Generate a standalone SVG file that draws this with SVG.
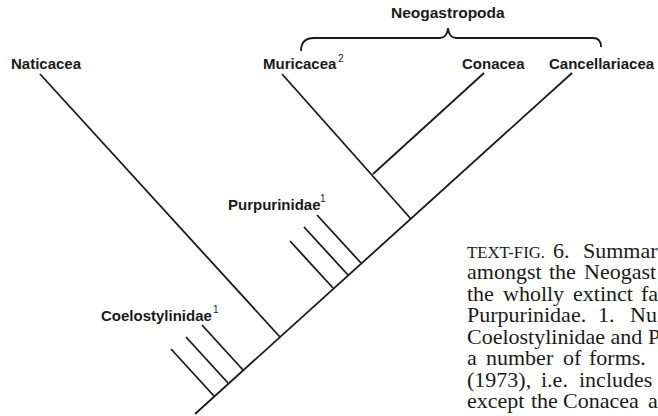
<svg xmlns="http://www.w3.org/2000/svg" width="658" height="416" viewBox="0 0 658 416">
<style>
.lbl{font-family:"Liberation Sans",Arial,sans-serif;font-weight:bold;font-size:15px;fill:#1a1a1a}
.sup{font-family:"Liberation Sans",Arial,sans-serif;font-size:10px;fill:#1a1a1a}
.ln{stroke:#1a1a1a;stroke-width:1.8;fill:none;stroke-linecap:butt}
.cap{font-family:"Liberation Serif","Times New Roman",serif;font-size:22px;fill:#1a1a1a}
.sc{font-size:16.5px}
</style>
<rect width="658" height="416" fill="#ffffff"/>
<g id="connectors">
<line class="ln" x1="195" y1="414" x2="572" y2="73"/>
<line class="ln" x1="40" y1="74" x2="280" y2="337"/>
<line class="ln" x1="282" y1="74" x2="411" y2="219"/>
<line class="ln" x1="484" y1="73" x2="373" y2="174"/>
<line class="ln" x1="171" y1="349" x2="214" y2="396"/>
<line class="ln" x1="186" y1="337" x2="228" y2="383"/>
<line class="ln" x1="202" y1="325" x2="243" y2="370"/>
<line class="ln" x1="290" y1="241" x2="333" y2="288"/>
<line class="ln" x1="304" y1="227" x2="348" y2="275"/>
<line class="ln" x1="317" y1="215" x2="361" y2="263"/>
<path class="ln" d="M301,51 Q301,38 314,38 L440,38 Q447,38 448,28 Q449,38 456,38 L593,38 Q601,38 601,47"/>
</g>
<g id="node-naticacea"><text class="lbl" x="11" y="69">Naticacea</text></g>
<g id="node-muricacea"><text class="lbl" x="263" y="69">Muricacea</text><text class="sup" x="338" y="62">2</text></g>
<g id="node-conacea"><text class="lbl" x="462" y="69">Conacea</text></g>
<g id="node-cancellariacea"><text class="lbl" x="549" y="69">Cancellariacea</text></g>
<g id="node-neogastropoda"><text class="lbl" x="391" y="18" style="font-size:15.5px">Neogastropoda</text></g>
<g id="node-purpurinidae"><text class="lbl" x="228" y="210">Purpurinidae</text><text class="sup" x="320" y="202">1</text></g>
<g id="node-coelostylinidae"><text class="lbl" x="101" y="321">Coelostylinidae</text><text class="sup" x="213" y="313">1</text></g>
<g id="caption" class="cap">
<text y="258"><tspan x="467" class="sc" textLength="78" lengthAdjust="spacingAndGlyphs">TEXT-FIG.</tspan><tspan x="553">6.</tspan><tspan x="583">Summar</tspan></text>
<text y="279.4"><tspan x="467">amongst</tspan><tspan x="549">the</tspan><tspan x="584">Neogast</tspan></text>
<text y="300.9"><tspan x="467">the</tspan><tspan x="503">wholly</tspan><tspan x="573">extinct</tspan><tspan x="641">fa</tspan></text>
<text y="322.3"><tspan x="467">Purpurinidae.</tspan><tspan x="598">1.</tspan><tspan x="630">Nu</tspan></text>
<text y="343.7"><tspan x="467">Coelostylinidae</tspan><tspan x="610.6">and</tspan><tspan x="648">P</tspan></text>
<text y="365.1"><tspan x="467">a</tspan><tspan x="486">number</tspan><tspan x="563">of</tspan><tspan x="589">forms.</tspan></text>
<text y="386.6"><tspan x="467">(1973),</tspan><tspan x="541">i.e.</tspan><tspan x="579">includes</tspan></text>
<text y="408"><tspan x="467">except</tspan><tspan x="531">the</tspan><tspan x="563">Conacea</tspan><tspan x="648">a</tspan></text>
</g>
</svg>
